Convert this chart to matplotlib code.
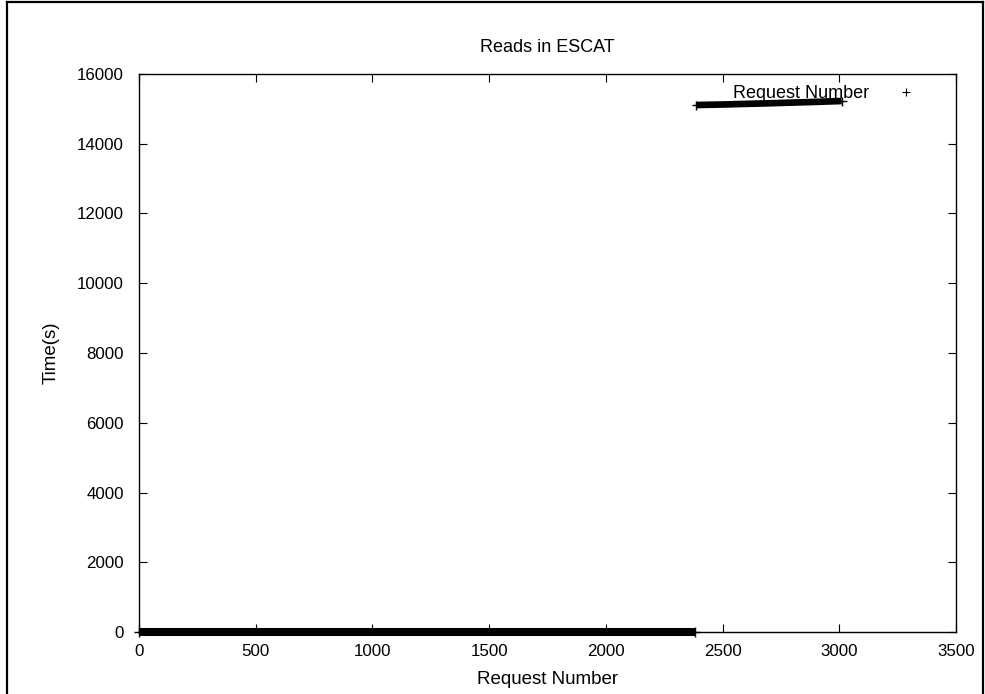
import matplotlib
matplotlib.use("Agg")
import matplotlib.pyplot as plt
from matplotlib.lines import Line2D

plt.rcParams["font.family"] = ["Liberation Sans", "DejaVu Sans"]

# Reads that finish right away
req_fast = [0, 500, 1000, 1500, 2000, 2382]
time_fast = [0, 0, 0, 0, 0, 0]

# Reads that wait on the tape
req_slow = [2386, 2500, 2700, 2900, 3010]
time_slow = [15110, 15125, 15160, 15200, 15225]

x_ticks = [0, 500, 1000, 1500, 2000, 2500, 3000, 3500]
y_ticks = [0, 2000, 4000, 6000, 8000, 10000, 12000, 14000, 16000]

fig = plt.figure(figsize=(9.85, 6.94), dpi=100)
ax = fig.add_axes([0.1411, 0.0893, 0.8295, 0.8041])

# dense "+" points merge into a solid band
for xs, ys, lw in [(req_fast, time_fast, 5.8), (req_slow, time_slow, 4.8)]:
    ax.plot(xs, ys, "-", color="black", lw=lw, solid_capstyle="butt",
            clip_on=False)
    ax.plot([xs[0], xs[-1]], [ys[0], ys[-1]], "+", color="black",
            ms=lw * 1.35, mew=1.0, clip_on=False)

# legend entry drawn gnuplot-style: label first, then the marker
ax.plot([], [], "+", color="black", ms=6, mew=0.8, label="Request Number")
leg = ax.legend(loc="upper right", frameon=False, markerfirst=False,
                fontsize=13, handlelength=1.2, handletextpad=1.45,
                bbox_to_anchor=(0.9675, 1.003), borderaxespad=0.3)

ax.set_xlim(0, 3500)
ax.set_ylim(0, 16000)
ax.set_xticks(x_ticks)
ax.set_yticks(y_ticks)
ax.tick_params(direction="in", length=6, width=0.8, labelsize=12.2,
               top=True, right=True)
ax.tick_params(axis="x", pad=8.5)
ax.tick_params(axis="y", pad=11)
for s in ax.spines.values():
    s.set_linewidth(1.0)

ax.set_title("Reads in ESCAT", fontsize=13, pad=15.5)
ax.set_xlabel("Request Number", fontsize=13.5, labelpad=9)
ax.set_ylabel("Time(s)", fontsize=13.5, labelpad=12.5)

# outer border around the page
for xs, ys in [([0.0071, 0.0071], [0.0, 0.997]),
               ([0.0071, 0.998], [0.997, 0.997]),
               ([0.998, 0.998], [0.997, 0.0])]:
    fig.add_artist(Line2D(xs, ys, transform=fig.transFigure,
                          color="black", lw=1.6))

fig.savefig("out.png", dpi=100)
